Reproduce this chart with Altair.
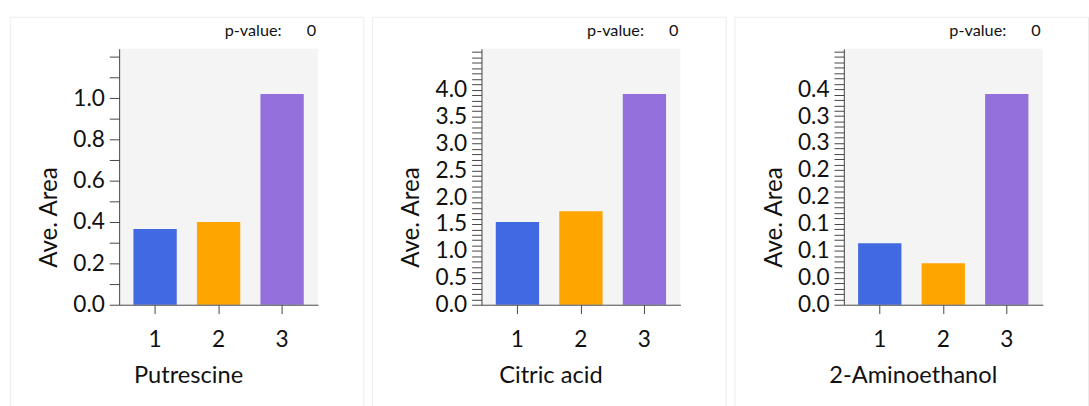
import altair as alt
import numpy as np
import pandas as pd

# Groups and bar colours shared by every panel
groups = ["1", "2", "3"]
colors = ["#4169E1", "#FFA500", "#9370DB"]

# Metabolite names (x-axis titles)
metabolites = ["Putrescine", "Citric acid", "2-Aminoethanol"]

# Average peak area per group
putrescine = [0.367, 0.400, 1.020]
citric_acid = [1.54, 1.74, 3.92]
aminoethanol = [0.114, 0.077, 0.391]
series = [putrescine, citric_acid, aminoethanol]

# p-values shown above each panel
pvalues = [0, 0, 0]

# y-axis tick spacing (minor ticks) and labelled ticks
minor_steps = [0.1, 0.1, 0.01]
label_every = [2, 5, 5]
tick_labels = [
    ["0.0", "0.2", "0.4", "0.6", "0.8", "1.0"],
    ["0.0", "0.5", "1.0", "1.5", "2.0", "2.5", "3.0", "3.5", "4.0"],
    ["0.0", "0.0", "0.1", "0.1", "0.2", "0.2", "0.3", "0.3", "0.4"],
]

FONT = "Lato"
W, H = 202, 260


def label_expr(step, every, labels):
    idx = f"round(datum.value / {step})"
    expr = "''"
    for i in range(len(labels) - 1, -1, -1):
        expr = f"{idx} == {i * every} ? '{labels[i]}' : ({expr})"
    return expr


def panel(name, values, pval, step, every, labels):
    ymax = max(values) * 1.215
    ticks = [round(v, 4) for v in np.arange(0, ymax + 1e-9, step)]
    df = pd.DataFrame({"group": groups, "value": values})
    one = pd.DataFrame({"p": [str(pval)]})

    card = alt.Chart(one).mark_rect(
        fill="white", stroke="#ececec", strokeWidth=1
    ).encode(
        x=alt.value(-110.5), x2=alt.value(248.5),
        y=alt.value(-32), y2=alt.value(400),
    )
    plot_bg = alt.Chart(one).mark_rect(fill="#f4f4f4").encode(
        x=alt.value(0), x2=alt.value(W), y=alt.value(0), y2=alt.value(H)
    )
    bars = alt.Chart(df).mark_bar().encode(
        x=alt.X(
            "group:N",
            sort=groups,
            scale=alt.Scale(paddingInner=0.318, paddingOuter=0.225),
            axis=alt.Axis(
                title=name, labelAngle=0, zindex=1,
                labelFontSize=23, labelPadding=15, labelColor="#111",
                labelFont=FONT, tickSize=9, tickColor="#444",
                domainColor="#444",
                titleFont=FONT, titleFontSize=24, titleFontWeight="normal",
                titleColor="#111", titleX=70, titleY=79,
                titleAlign="center", titleBaseline="alphabetic",
            ),
        ),
        y=alt.Y(
            "value:Q",
            scale=alt.Scale(domain=[0, ymax], nice=False, zero=True),
            axis=alt.Axis(
                title="Ave. Area", values=ticks, zindex=1,
                labelExpr=label_expr(step, every, labels),
                labelFontSize=23, labelPadding=5, labelColor="#111",
                labelFont=FONT, tickSize=10, tickColor="#444",
                domainColor="#444", labelOverlap=False, grid=False,
                titleFont=FONT, titleFontSize=24.5, titleFontWeight="normal",
                titleColor="#111", titleAngle=270, titleX=-63.5, titleY=171,
                titleAlign="center", titleBaseline="alphabetic",
            ),
        ),
        color=alt.Color(
            "group:N", scale=alt.Scale(domain=groups, range=colors), legend=None
        ),
    )
    p_label = alt.Chart(one).mark_text(
        text="p-value:", align="right", baseline="middle",
        font=FONT, fontSize=16.5, color="#111",
    ).encode(x=alt.value(165), y=alt.value(-18))
    p_value = alt.Chart(one).mark_text(
        align="right", baseline="middle", font=FONT, fontSize=16.5, color="#111",
    ).encode(x=alt.value(200), y=alt.value(-18), text="p:N")

    return alt.layer(card, plot_bg, bars, p_label, p_value).properties(
        width=W, height=H
    )


panels = [
    panel(metabolites[i], series[i], pvalues[i], minor_steps[i],
          label_every[i], tick_labels[i])
    for i in range(3)
]

chart = alt.hconcat(*panels, spacing=8).properties(
    padding={"left": 10, "top": 13, "right": 0, "bottom": 0},
    background="white",
).configure_view(stroke=None)

chart.save("out.html", embed_options={"renderer": "svg", "actions": False})
